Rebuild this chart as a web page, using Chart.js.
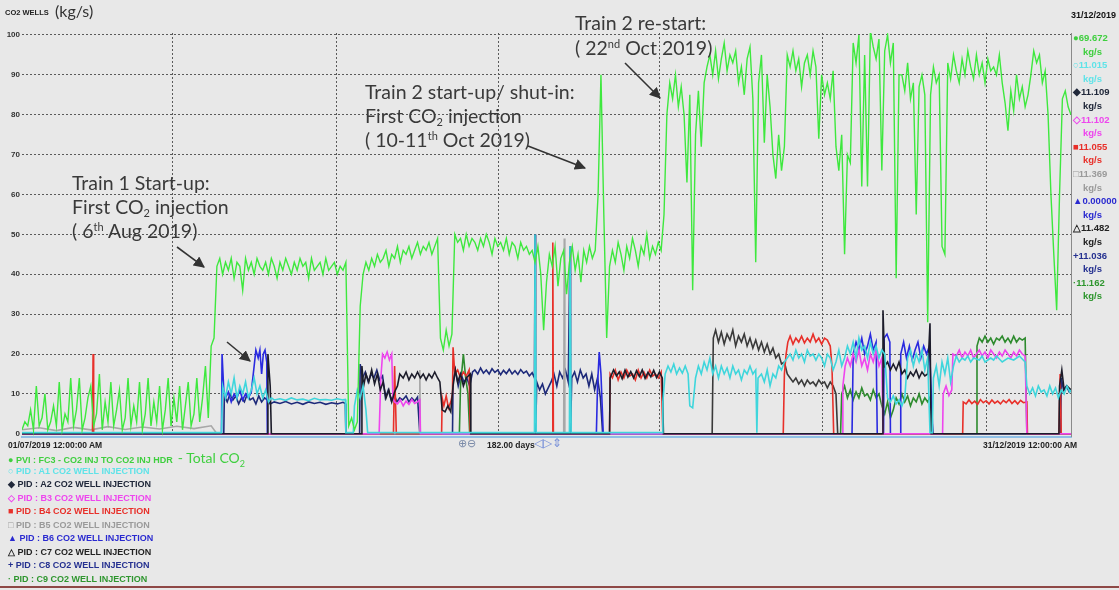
<!DOCTYPE html>
<html>
<head>
<meta charset="utf-8">
<script src="https://cdn.jsdelivr.net/npm/chart.js@4.4.0/dist/chart.umd.min.js"></script>
<style>
  body { margin: 0; background: #e8e8e8; width: 1119px; height: 590px; overflow: hidden; position: relative; font-family: "Liberation Sans", Arial, sans-serif; }
  #c { position: absolute; left: 0; top: 0; }
  .t { position: absolute; white-space: nowrap; font-weight: bold; font-size: 8px; }
  .note { position: absolute; white-space: nowrap; font-family: Lato, "Open Sans", sans-serif; font-size: 19.5px; line-height: 24px; color: #3a3a3a; }
  .note sup { font-size: 11px; vertical-align: 7px; line-height: 0; }
  .note sub { font-size: 11px; vertical-align: -3px; line-height: 0; }
  #vals { position: absolute; left: 1073px; top: 31px; }
  #vals div { height: 13.6px; line-height: 13.6px; font-size: 9.5px; font-weight: bold; white-space: nowrap; }
  #vals .u { padding-left: 10px; }
  #legend { position: absolute; left: 8px; top: 451px; }
  #legend div { height: 13.5px; line-height: 13.5px; font-size: 9px; font-weight: bold; white-space: nowrap; }
</style>
</head>
<body>
<canvas id="c" width="1119" height="590"></canvas>

<div class="t" style="left:5px;top:8px;font-size:7.5px;color:#222">CO2 WELLS</div>
<div class="note" style="left:55px;top:-1px;font-size:16px;color:#333">(kg/s)</div>
<div class="t" style="left:1071px;top:10px;font-size:9px;color:#111">31/12/2019</div>

<div class="t" style="left:8px;top:440px;font-size:8.5px;color:#222">01/07/2019 12:00:00 AM</div>
<div class="t" style="left:983px;top:440px;font-size:8.5px;color:#222">31/12/2019 12:00:00 AM</div>
<div class="t" style="left:458px;top:437px;font-size:11px;font-weight:normal;color:#7a8aa8">&#8853;&#8854;</div>
<div class="t" style="left:487px;top:440px;font-size:8.5px;color:#222">182.00 days</div>
<div class="t" style="left:534px;top:436px;font-size:12px;font-weight:normal;color:#7890d8">&#9665;&#9655;&#8661;</div>

<div id="vals"></div>
<div id="legend"></div>

<div class="note" style="left:72px;top:171px">Train 1 Start-up:<br>First CO<sub>2</sub> injection<br>( 6<sup>th</sup> Aug 2019)</div>
<div class="note" style="left:365px;top:80px">Train 2 start-up/ shut-in:<br>First CO<sub>2</sub> injection<br>( 10-11<sup>th</sup> Oct 2019)</div>
<div class="note" style="left:575px;top:10px;line-height:25px">Train 2 re-start:<br>( 22<sup>nd</sup> Oct 2019)</div>

<svg style="position:absolute;left:0;top:0" width="1119" height="590">
  <defs>
    <marker id="ah" viewBox="0 0 10 10" refX="9" refY="5" markerWidth="7" markerHeight="7" orient="auto">
      <path d="M0,0 L10,5 L0,10 z" fill="#333"/>
    </marker>
  </defs>
  <g stroke="#333" stroke-width="1.6" marker-end="url(#ah)">
    <line x1="177" y1="247" x2="204" y2="267"/>
    <line x1="227" y1="342" x2="250" y2="361"/>
    <line x1="528" y1="146" x2="585" y2="168"/>
    <line x1="625" y1="63" x2="660" y2="98"/>
  </g>
</svg>

<div style="position:absolute;left:0;top:586px;width:1119px;height:2px;background:#8e4846"></div>

<script>
// axis
const yTicks = [0, 10, 20, 30, 40, 50, 60, 70, 80, 90, 100];
const gridDays = [26.2, 54.8, 83.2, 111.3, 139.7, 168.3];   // days since 01/07/2019

// legend
const names = [
  'PVI : FC3 - CO2 INJ TO CO2 INJ HDR',
  'PID : A1 CO2 WELL INJECTION',
  'PID : A2 CO2 WELL INJECTION',
  'PID : B3 CO2 WELL INJECTION',
  'PID : B4 CO2 WELL INJECTION',
  'PID : B5 CO2 WELL INJECTION',
  'PID : B6 CO2 WELL INJECTION',
  'PID : C7 CO2 WELL INJECTION',
  'PID : C8 CO2 WELL INJECTION',
  'PID : C9 CO2 WELL INJECTION'
];
const marks = ['\u25CF', '\u25CB', '\u25C6', '\u25C7', '\u25A0', '\u25A1', '\u25B2', '\u25B3', '+', '\u00B7'];
const lastValues = ['69.672', '11.015', '11.109', '11.102', '11.055', '11.369', '0.00000', '11.482', '11.036', '11.162'];
const colors = ['#3ee83e', '#3fd6dc', '#1c1c2a', '#ee45ee', '#e8302a', '#a8a8a8', '#2a2ae0', '#3a3a3a', '#1e2a7a', '#2e8b2e'];
const textColors = ['#3fcf3f', '#5fe3e8', '#20283a', '#ee45ee', '#e8302a', '#9a9a9a', '#2a2ad0', '#222222', '#243090', '#2e962e'];

// PVI FC3 total CO2, half-day samples: [start day, values]
const totalRuns = [
  [0, [1,3,2,6,1,12,2,4,10,1, 3,7,2,13,1,5,3,14,2,6, 14,1,4,9,12,2,5,15,1,8, 3,13,2,6,11,1,4,14,2,7,
       3,13,1,5,14,2,8,3,12,1, 6,14,2,9,3,12,1,7,13,2, 5,14,3,9,17,4,22,24]],
  [34, [42,44,40,43,41,44,39,43,42,36, 44,41,43,40,44,42,41,43,40,44, 42,39,43,41,44,42,40,43,41,44,
        42,43,39,44,41,42,43,40,44,41, 42,43,40,42,41,43]],
  [57, [2,4,1,3,32]],
  [59.5, [40,43,41,44,42,45,43,44,46,42, 45,44,47,43,46,45,47,44,46,48, 45,47,46,48,45,47,49]],
  [73, [24,21,26,22,25]],
  [75.5, [50,48,49,46,50,47,49,48,46,49, 47,50,48,45,49,47,48,46,49,45, 48,47,44,48,46,47,45]],
  [89, [46,43,47,40,26,38]],
  [92, [45,42,47,37,44,46,35,43,47,41,45,38,46,43,47,44,46]],
  [100.5, [60,90,55,24,42]],
  [103, [46,43,48,45,41,47,44,49,46,42,47,45,50,44,47,45,48]],
  [111.5, [46,55,80]],
  [113, [88,84,90,82,87,80,63,85,36,75, 86,72,88,92,95,90,96,89,94,98, 91,95,93,96,88,92,85,94,97,84,
         43,88,95,73,90,82,70,64,75,66, 72,95,92,96,91,94,87,93,95,90, 96,92,74,90,85,88,84,91,72,66, 75,45,70,68]],
  [145, [98,93,100,62,95,62,101,97,94,99, 66,96,100,93,98,39,90,90,86,93, 84,88,55,87,90,85,28,85,92,88,
         90,47,45,93,89,95,91,88,94,90, 96,92,89,95,90,93,88,94,91,92, 90,95,88,83,76,86,81,90,84,87,
         82,85,90,96,93,95,88,91,80,60, 45,31,60,84,86,82,80]]
];

// wells: [day, kg/s]
const wellA1 = [[0,0.3],[34.8,0.3],[35,12],[35.5,9],[36,13],[36.5,10],[37,14],[37.5,9],[38,12],[38.5,10],[39,13],[39.5,9],[40,11],[40.5,14],[41,10],[41.5,12],[42,9],[42.5,11],[43,8],[43.5,9],
  [44,8.5],[45,8.8],[46,8.4],[47,9],[48,8.5],[49,8.7],[50,8.3],[51,8.9],[52,8.5],[53,8.6],[54,8.4],[55,8.8],[56,8.5],[56.4,8.6],[56.5,0.3],[57.8,0.3],[58,7],[58.5,11],[59,9],[59.5,12],[60,6],[60.3,0.3],
  [89.4,0.3],[89.5,50],[89.7,0.3],[95.5,0.3],[95.6,47],[95.8,0.3],[111.7,0.3],[111.8,8],[112.2,15],[112.7,17],[113.2,15.5],[113.7,17.5],[114.2,15],[114.7,16.5],[115.2,15.2],[115.7,17],[116.2,15],
  [116.5,7],[117,6.5],[117.5,14],[118,17],[118.5,15],[119,18],[119.5,16],[120,19],[120.5,15],[121,17],[121.5,14],[122,17],[122.5,15],[123,16.5],[123.5,14],[124,17],[124.5,15],[125,16],[125.5,13.5],
  [126,16],[126.5,15],[127,17],[127.5,15],[128,16],[128.2,0.3],[128.4,14],[129,15],[129.5,13],[130,16],[130.5,12],[131,15],[131.5,14],[132,17],[132.5,16],[133,18],[133.5,19],[134,20],[134.5,18.5],
  [135,21],[135.5,19],[136,20],[136.5,18],[137,21],[137.5,19.5],[138,20],[138.5,18.5],[139,20],[139.5,19],[140,17],[140.5,20],[141,19],[141.5,16],[142,18],[142.5,21],[143,17],[143.5,19],[144,22],
  [144.5,20],[145,23],[145.5,19],[146,24],[146.5,21],[147,22],[147.5,19],[148,23],[148.5,20],[149,22],[149.5,19],[150,21],[150.5,20],[151,9],[151.5,8],[152,9.5],[152.5,7.5],[153,8.5],[153.5,7],
  [154,9],[154.5,19],[155,21],[155.5,17],[156,20],[156.5,18],[157,21],[157.5,16],[158,19],[158.4,0.3],[158.8,0.3],[159,14],[159.5,17],[160,12],[160.5,18],[161,15],[161.5,19],[162,13],[162.5,17],
  [163,19.5],[163.5,18],[164,19],[164.5,18.5],[165,19.5],[165.5,18],[166,19],[167,18.5],[167.5,19.5],[168,18],[169,19],[169.5,18.5],[170,19.5],[171,18],[172,19],[173,18.5],[174,19.5],[175,18],
  [175.3,12],[175.8,10],[176.3,11.5],[176.8,9.5],[177.3,12],[177.8,10.5],[178.3,11],[178.8,9.5],[179.3,12],[179.8,10],[180.3,11.5],[180.8,9],[181.3,11],[181.8,10],[182.3,12],[182.8,10.5],[183,11]];

const wellA2 = [[0,0],[42.8,0],[42.9,20],[43.3,12],[43.5,0],[59.2,0],[59.3,17],[59.6,12],[60,15],[60.5,13],[61,16],[61.5,12.5],[62,15],[62.5,11],[63,13],[63.5,9],[64,11],[64.5,8],[65,10.5],
  [65.5,12],[65.9,15],[66.5,14],[67,15.5],[67.5,13.5],[68,15],[68.5,14],[69,15.5],[69.5,14],[70,15],[70.5,13.5],[71,15],[71.5,14],[72,15.5],[72.5,14],[72.9,13],[73.3,6],[73.8,5.5],[74.3,7],
  [74.8,5.5],[75.2,12],[75.6,16],[76,13],[76.5,15],[77,12],[77.5,14],[78.2,15],[78.3,0],[102.5,0],[102.6,14],[103.2,16],[103.7,14.5],[104.2,15.5],[104.7,13.8],[105.2,16],[105.7,14.2],[106.2,15.6],
  [106.7,14],[107.2,15.8],[107.7,14.4],[108.2,16],[108.7,13.9],[109.2,15.4],[109.7,14.3],[110.2,15.9],[110.7,14.1],[111.2,15.5],[111.7,14],[111.9,0],[150.1,0],[150.2,31],[150.5,17],[151,18],
  [151.5,16],[152,17.5],[152.5,16],[153,18],[153.5,15],[154,16],[154.5,14],[155,15.5],[155.5,14.5],[156,16],[156.5,14],[157,15.5],[157.5,14.5],[158,15],[158.4,27.7],[158.6,0],[180.9,0],[181,12],
  [181.4,16],[181.8,11],[182.3,12],[183,11]];

const wellB3 = [[0,0],[62.3,0],[62.6,14],[62.9,20],[63.3,19],[63.7,20.5],[64.1,18.5],[64.5,20],[64.7,9],[65,8],[65.5,7.5],[66,8.5],[66.5,7],[67,8.2],[67.5,7.4],[68,8.6],[68.5,7.6],[69,8],
  [69.4,8.5],[69.5,0],[143.1,0],[143.2,12],[143.6,17],[144,19],[144.5,17],[145,20],[145.5,18],[146,21],[146.5,17],[147,19],[147.5,16],[148,20],[148.5,18],[149,21],[149.5,17],[150,19],[150.2,0],
  [160.6,0],[160.7,10],[161.2,12],[161.7,9.6],[162.2,11],[162.4,20],[163,19.5],[163.5,21],[164,19],[164.5,20.5],[165,19.5],[165.5,21],[166,19],[166.5,20],[167,21],[167.5,19.5],[168,20.5],[168.5,19],
  [169,21],[169.5,20],[170,19],[170.5,20.5],[171,19.5],[171.5,21],[172,20],[172.5,19],[173,20.5],[173.5,19.5],[174,21],[174.5,20],[175,19.5],[175.3,0],[183,0]];

const wellB4 = [[0,0],[12.3,0],[12.4,20],[12.5,0],[64.8,0],[65,17],[65.3,0],[73.2,0],[73.3,9],[73.6,7],[74,9.5],[74.4,6.5],[74.8,8],[75.1,10],[75.2,21.7],[75.5,15],[76,16],[76.5,14],[77,15.5],
  [77.5,14.5],[78,16],[78.2,0],[92.5,0],[92.6,48],[92.7,0],[102.5,0],[102.6,15],[103,14],[103.5,16],[104,13.5],[104.5,15.5],[105,14],[105.5,16],[106,14.5],[106.5,15],[107,13.5],[107.5,16],[108,14],
  [108.5,15.5],[109,14],[109.5,16],[110,14.5],[110.5,15],[111,14],[111.5,15.5],[111.8,0],[132.8,0],[133,15],[133.3,20],[133.6,23],[134,24.5],[134.5,22.5],[135,24],[135.5,23],[136,24.5],[136.5,22.8],
  [137,24],[137.5,23],[138,25],[138.5,23],[139,24],[139.5,22.5],[140,24],[140.5,23.5],[141,22],[141.3,17],[141.6,0],[164.1,0],[164.2,8],[164.7,7.5],[165.2,8.5],[165.7,7.6],[166.2,8.2],[166.7,7.4],
  [167.2,8.6],[167.7,7.8],[168.2,8.3],[168.7,7.5],[169.2,8.5],[169.7,7.7],[170.2,8.2],[170.7,7.5],[171.2,8.4],[171.7,7.8],[172.2,8.6],[172.7,7.6],[173.2,8.3],[173.7,7.5],[174.2,8.4],[174.7,7.8],
  [175.3,8],[175.4,0],[180.9,0],[181.1,15],[181.3,0],[183,0]];

const wellB5 = [[0,1],[3,1.5],[6,0.8],[9,1.6],[12,1],[15,1.8],[18,1.1],[21,1.7],[24,1.2],[27,1.9],[30,1.3],[33,2],[34,0],[69.3,0],[69.4,16],[69.5,0],[94.5,0],[94.6,49],[94.7,0],[183,0]];

const wellB6 = [[0,0],[34.8,0],[34.9,20],[35.2,11],[35.5,9],[36,10.5],[36.5,8],[37,10],[37.5,9],[38,11],[38.5,8.5],[39,10],[39.5,9],[40,10.5],[40.5,17],[40.8,21],[41.2,19],[41.5,21],[41.8,15],
  [42.1,20],[42.4,21],[42.7,18],[42.8,0],[100.2,0],[100.4,12],[100.7,20.5],[101,15],[101.4,0],[144.8,0],[145,20],[145.5,23],[146,21],[146.5,24],[147,20],[147.5,22],[148,25],[148.5,21],[149,23],
  [149.2,0],[150.3,0],[150.4,24],[150.9,25],[151.4,23],[151.5,0],[153.2,0],[153.3,20],[153.8,23],[154.3,19],[154.8,22],[155.3,18.5],[155.8,21],[156.3,23],[156.8,19],[157.3,22],[157.8,20],[158.3,22],
  [158.9,0],[183,0]];

const wellC7 = [[0,0],[120.4,0],[120.6,24],[121,26],[121.5,23],[122,25.5],[122.5,22.5],[123,25],[123.5,23.5],[124,26],[124.5,22],[125,24.5],[125.5,23],[126,25],[126.5,22],[127,24],[127.5,21.5],
  [128,23.5],[128.5,21],[129,23],[129.5,20.5],[130,22.5],[130.5,20],[131,21.5],[131.5,19],[132,20],[132.5,17.5],[133,18],[133.5,15],[134,14],[134.5,13],[135,14],[135.5,12.5],[136,13.5],[136.5,12],
  [137,13.5],[137.5,12.5],[138,13],[138.5,12],[139,13.5],[139.5,12.5],[140,13],[140.5,11.5],[141,13],[141.5,12],[142,10],[142.3,0],[183,0]];

const wellC8 = [[0,0],[35.2,0],[35.3,9.5],[35.8,8],[36.3,10],[36.8,8.5],[37.3,9.5],[37.8,7.5],[38.3,9],[38.8,8],[39.3,10],[39.8,8.5],[40.3,9],[40.8,7.5],[41.3,9.5],[41.8,8],[42.3,9],[42.8,8.5],
  [43.3,7.5],[44,8],[45,7.6],[46,8.1],[47,7.5],[48,7.9],[49,7.4],[50,8],[51,7.6],[52,7.9],[53,7.4],[54,7.8],[55,7.5],[56,7.9],[56.4,7.6],[56.5,0],[58.9,0],[59,17.5],[59.4,14],[59.9,15.5],[60.4,13],
  [60.9,15],[61.4,14],[61.9,16],[62.4,13.5],[62.9,14.5],[63.4,9],[63.9,11],[64.4,8.5],[64.9,10],[65.4,8],[65.9,9],[66.4,8.5],[67,9.5],[67.5,8],[68,9],[68.5,8.2],[69,9.2],[69.4,0],[75.1,0],[75.2,13],
  [75.6,16],[76.1,12],[76.6,15],[77.1,13],[77.6,14],[78.1,12],[78.6,15.5],[79,16],[79.5,15],[80,16.5],[80.5,15.2],[81,16],[81.5,15],[82,16.3],[82.5,15.4],[83,16],[83.5,14.8],[84,15.9],[84.5,15.1],
  [85,16.2],[85.5,15],[86,15.8],[86.5,14.9],[87,16.1],[87.5,15.2],[88,15.7],[88.5,14.5],[89,15.3],[89.4,14],[89.5,50],[89.6,0],[89.8,13],[90.3,11],[90.8,12.5],[91.3,10],[91.8,11.5],[92.3,13],
  [92.8,15],[93.3,12],[93.8,15.5],[94.3,14],[94.8,16],[95.3,13],[95.6,47],[95.7,0],[95.9,14],[96.4,15.5],[96.9,13],[97.4,16],[97.9,14],[98.4,15],[98.9,12],[99.4,15],[99.9,11],[100.4,14],[100.9,9],
  [101.3,0],[181.2,0],[181.3,14],[181.7,11],[182.2,12],[182.7,10.5],[183,11]];

const wellC9 = [[0,0],[76.3,0],[76.5,12],[77,20],[77.4,14],[77.8,10],[78.1,0],[142.8,0],[143,10],[143.5,12],[144,9],[144.5,11],[145,8.5],[145.5,10.5],[146,9],[146.5,11.5],[147,9.5],[147.5,10],
  [148,8.5],[148.5,11],[149,9],[149.5,10],[150,7],[150.5,5],[151,8],[151.5,4],[152,6],[152.5,9],[153,7.5],[153.5,10],[154,8],[154.5,9.5],[155,7],[155.5,9],[156,8],[156.5,10],[157,7.5],[157.5,9],
  [158,8],[158.5,9.5],[158.9,0],[166.5,0],[166.6,22],[167,24],[167.5,23],[168,24.5],[168.5,23],[169,24],[169.5,22.5],[170,24],[170.5,23.5],[171,24.5],[171.5,23],[172,24],[172.5,22.8],[173,24.5],
  [173.5,23],[174,24],[174.5,23.5],[175,24],[175.3,0],[183,0]];

const pts = a => a.map(([x, y]) => ({x, y}));
const total = totalRuns.flatMap(([start, vals]) => vals.map((y, i) => ({x: start + i * 0.5, y})));
const series = [total, pts(wellA1), pts(wellA2), pts(wellB3), pts(wellB4), pts(wellB5), pts(wellB6), pts(wellC7), pts(wellC8), pts(wellC9)];

// html legends
const vals = document.getElementById('vals');
const legend = document.getElementById('legend');
names.forEach((n, i) => {
  vals.innerHTML += '<div style="color:' + textColors[i] + '">' + marks[i] + lastValues[i] + '</div><div class="u" style="color:' + textColors[i] + '">kg/s</div>';
  let extra = i === 0 ? '&nbsp;&nbsp;<span style="font-family:Lato,sans-serif;font-weight:normal;font-size:14px">- Total CO<sub style="font-size:9px">2</sub></span>' : '';
  legend.innerHTML += '<div style="color:' + textColors[i] + '">' + marks[i] + ' ' + n + extra + '</div>';
});

const frame = {
  id: 'frame',
  afterDraw(chart) {
    const {ctx, chartArea: a} = chart;
    ctx.save();
    ctx.strokeStyle = '#8a8a8a';
    ctx.lineWidth = 1;
    ctx.beginPath();
    ctx.moveTo(Math.round(a.right) + 0.5, a.top);
    ctx.lineTo(Math.round(a.right) + 0.5, a.bottom);
    ctx.stroke();
    ctx.restore();
  }
};

new Chart(document.getElementById('c'), {
  type: 'line',
  data: {
    datasets: series.map((d, i) => ({
      label: names[i],
      data: d,
      borderColor: colors[i],
      borderWidth: i === 0 ? 1.4 : 1.6,
      pointRadius: 0,
      tension: 0,
      fill: false
    }))
  },
  options: {
    responsive: false,
    animation: false,
    events: [],
    layout: { padding: { left: 4, top: 33, right: 48, bottom: 153 } },
    plugins: { legend: { display: false }, tooltip: { enabled: false } },
    scales: {
      x: {
        type: 'linear', min: 0, max: 183,
        afterBuildTicks: s => { s.ticks = gridDays.map(value => ({value})); },
        afterFit: s => { s.height = 0; },
        ticks: { display: false },
        grid: { color: '#5a5a5a', drawTicks: false },
        border: { display: true, color: '#8fbfe6', width: 2, dash: [2, 2] }
      },
      y: {
        min: -0.8, max: 100.5,
        afterBuildTicks: s => { s.ticks = yTicks.map(value => ({value})); },
        afterFit: s => { s.width = 18; },
        ticks: { color: '#333', padding: 2, font: { family: 'Liberation Sans', size: 8, weight: 'bold' } },
        grid: { color: '#5a5a5a', drawTicks: false },
        border: { display: false, dash: [2, 2] }
      }
    }
  },
  plugins: [frame]
});
</script>
</body>
</html>
